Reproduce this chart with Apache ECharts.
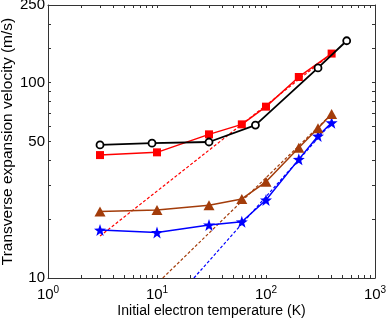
<!DOCTYPE html>
<html>
<head>
<meta charset="utf-8">
<script src="https://cdn.jsdelivr.net/npm/echarts@6/dist/echarts.min.js"></script>
<style>
html,body{margin:0;padding:0;background:#fff;}
#c{width:388px;height:319px;}
</style>
</head>
<body>
<div id="c"></div>
<script>
// ---- data ----
var blackT = [3, 9, 30, 80, 300, 550];
var blackV = [48.0, 49.0, 49.7, 60.7, 119, 164];
var redT = [3, 10, 30, 60, 100, 200, 400];
var redV = [42.6, 44.0, 54.4, 61.2, 75.4, 107, 141];
var brownT = [3, 10, 30, 60, 100, 200, 300, 400];
var brownV = [21.9, 22.3, 23.6, 25.4, 31.1, 46.5, 58.4, 69.2];
var blueT = [3, 10, 30, 60, 100, 200, 300, 400];
var blueV = [17.6, 17.1, 18.7, 19.4, 25.1, 40.5, 53.3, 62.4];
// dashed power-law fits (end points)
var redFitT = [3, 400];
var redFitV = [16.4, 141];
var brownFitT = [11.3, 400];
var brownFitV = [10, 69.2];
var blueFitT = [21.8, 400];
var blueFitV = [10, 62.4];
// ticks
var xTickLabels = [1, 10, 100, 1000];
var xMinorTicks = [1,2,3,4,5,6,7,8,9,10,20,30,40,50,60,70,80,90,100,200,300,400,500,600,700,800,900,1000];
var yTickLabels = [10, 50, 100, 250];
var yMinorTicks = [10, 20, 30, 40, 50, 60, 70, 80, 90, 100, 150, 200, 250];

function pairs(t, v) { return t.map(function (x, i) { return [x, v[i]]; }); }

var FONT = 'Liberation Sans, Arial, sans-serif';
var chart = echarts.init(document.getElementById('c'), null, {renderer: 'canvas'});

function xAx(pos, showLabel) {
  return {
    type: 'log', logBase: 10, min: 1, max: 1000, position: pos,
    axisLine: {show: true, onZero: false, lineStyle: {color: '#333', width: 1}},
    axisTick: {show: true, inside: true, length: 3, customValues: xMinorTicks, lineStyle: {color: '#333'}},
    minorTick: {show: false},
    splitLine: {show: false},
    axisLabel: showLabel ? {
      show: true, margin: 7, customValues: xTickLabels, fontFamily: FONT, color: '#000',
      formatter: function (v) { return '{b|10}{s|' + Math.round(Math.log10(v)) + '}'; },
      rich: {
        b: {fontSize: 15, fontFamily: FONT, color: '#000'},
        s: {fontSize: 10, fontFamily: FONT, color: '#000', padding: [0, 0, 10, 0]}
      }
    } : {show: false},
    name: showLabel ? 'Initial electron temperature (K)' : '',
    nameLocation: 'middle', nameGap: 26, nameMoveOverlap: false,
    nameTextStyle: {fontSize: 14, fontFamily: FONT, color: '#000'}
  };
}
function yAx(pos, showLabel) {
  return {
    type: 'log', logBase: 10, min: 10, max: 250, position: pos,
    axisLine: {show: true, onZero: false, lineStyle: {color: '#333', width: 1}},
    axisTick: {show: true, inside: true, length: 3, customValues: yMinorTicks, lineStyle: {color: '#333'}},
    minorTick: {show: false},
    splitLine: {show: false},
    axisLabel: showLabel ? {
      show: true, margin: 3, customValues: yTickLabels, fontSize: 15, fontFamily: FONT, color: '#000'
    } : {show: false},
    name: showLabel ? 'Transverse expansion velocity (m/s)' : '',
    nameLocation: 'middle', nameGap: 32, nameMoveOverlap: false,
    nameTextStyle: {fontSize: 15.5, fontFamily: FONT, color: '#000'}
  };
}

var brown = '#a33c0a';
var option = {
  animation: false,
  backgroundColor: '#fff',
  grid: {left: 48, top: 5, right: 13, bottom: 41, containLabel: false, outerBoundsMode: 'none'},
  xAxis: [xAx('bottom', true), xAx('top', false)],
  yAxis: [yAx('left', true), yAx('right', false)],
  series: [
    {type: 'line', data: pairs(redFitT, redFitV), symbol: 'none', z: 1,
     lineStyle: {color: '#ff0000', width: 1.2, type: [3, 2]}},
    {type: 'line', data: pairs(brownFitT, brownFitV), symbol: 'none', z: 1,
     lineStyle: {color: brown, width: 1.2, type: [3, 2]}},
    {type: 'line', data: pairs(blueFitT, blueFitV), symbol: 'none', z: 1,
     lineStyle: {color: '#0000ff', width: 1.2, type: [3, 2]}},
    {type: 'line', data: pairs(blueT, blueV), symbol: 'path://M0,-10 L2.35,-3.24 L9.51,-3.09 L3.8,1.24 L5.88,8.09 L0,4 L-5.88,8.09 L-3.8,1.24 L-9.51,-3.09 L-2.35,-3.24 Z',
     symbolSize: 12, showAllSymbol: true, z: 3,
     lineStyle: {color: '#0000ff', width: 1.5}, itemStyle: {color: '#0000ff'}},
    {type: 'line', data: pairs(brownT, brownV), symbol: 'triangle', symbolSize: [11, 10], showAllSymbol: true, z: 3,
     lineStyle: {color: brown, width: 1.5}, itemStyle: {color: brown}},
    {type: 'line', data: pairs(redT, redV), symbol: 'rect', symbolSize: 8, showAllSymbol: true, z: 3,
     lineStyle: {color: '#ff0000', width: 1.5}, itemStyle: {color: '#ff0000'}},
    {type: 'line', data: pairs(blackT, blackV), symbol: 'circle', symbolSize: 7, showAllSymbol: true, z: 4,
     lineStyle: {color: '#000', width: 1.8},
     itemStyle: {color: '#fff', borderColor: '#000', borderWidth: 1.8}}
  ]
};
chart.setOption(option);
</script>
</body>
</html>
